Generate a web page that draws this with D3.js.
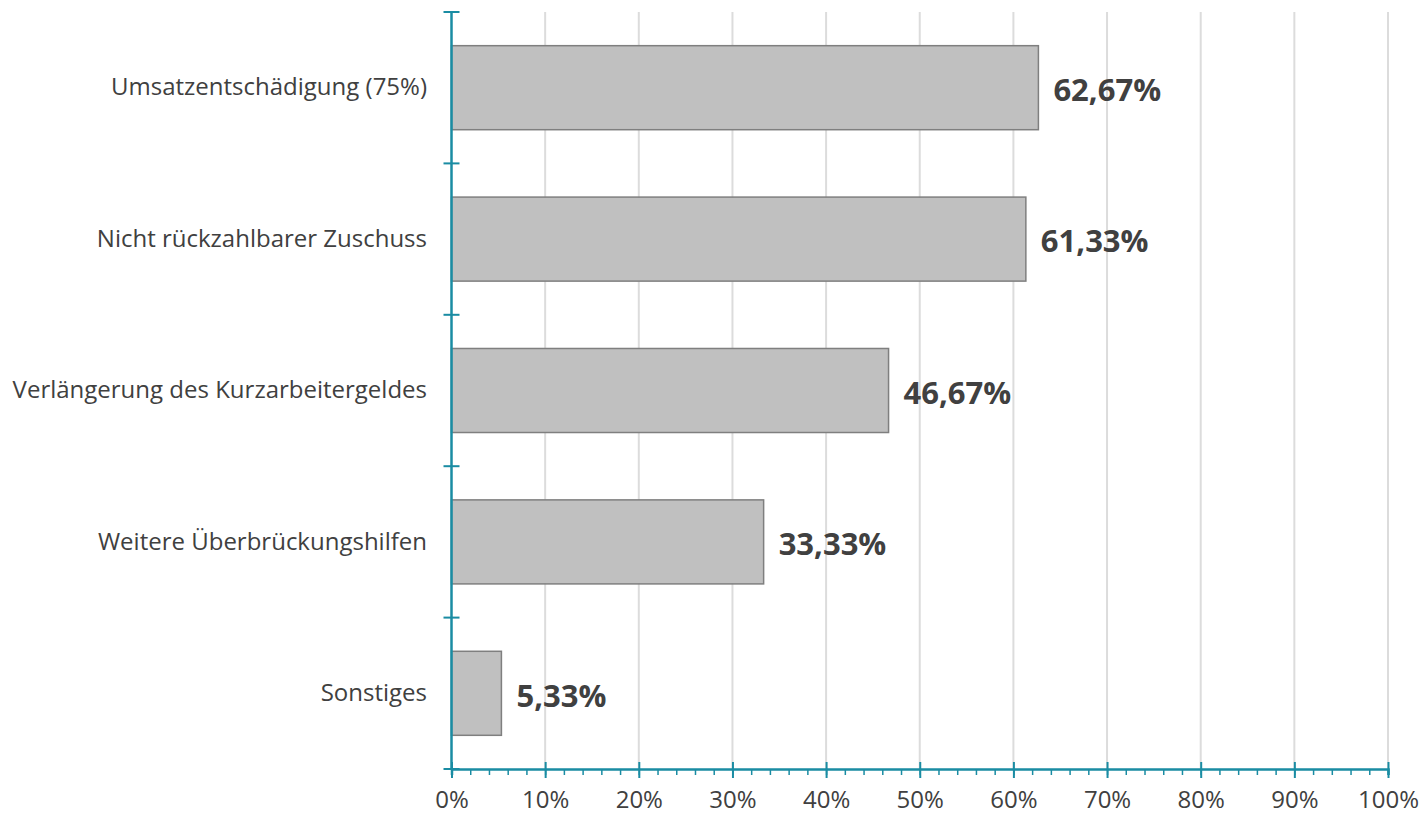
<!DOCTYPE html>
<html>
<head>
<meta charset="utf-8">
<script src="https://cdn.jsdelivr.net/npm/d3@7"></script>
<style>
	body { margin: 0; background: #fff; }
	svg { display: block; font-family: "Open Sans", sans-serif; }
</style>
</head>
<body>
<svg class="chart" width="1423" height="816"></svg>
<script>
var categories = ["Umsatzentschädigung (75%)", "Nicht rückzahlbarer Zuschuss", "Verlängerung des Kurzarbeitergeldes", "Weitere Überbrückungshilfen", "Sonstiges"];
var values = [62.67, 61.33, 46.67, 33.33, 5.33];
var valueLabels = ["62,67%", "61,33%", "46,67%", "33,33%", "5,33%"];
var xTicks = [0, 10, 20, 30, 40, 50, 60, 70, 80, 90, 100];

var plotLeft = 451.5, plotRight = 1388, plotTop = 12, plotBottom = 769;
var axisColor = "#1a8ca3";
var textColor = "#404040";

var svg = d3.select(".chart");

var x = d3.scaleLinear().domain([0, 100]).range([plotLeft, plotRight]);
var y = d3.scaleBand().domain(categories).range([plotTop, plotBottom]).paddingInner(0.445).paddingOuter(0.2225);

// gridlines
svg.append("g")
	.selectAll("line")
	.data(xTicks.slice(1))
	.enter()
	.append("line")
	.attr("x1", d => x(d)).attr("x2", d => x(d))
	.attr("y1", plotTop).attr("y2", plotBottom)
	.style("stroke", "#dcdcdc")
	.style("stroke-width", 2)

// bars
svg.append("g")
	.selectAll("rect")
	.data(values)
	.enter()
	.append("rect")
	.attr("x", x(0))
	.attr("y", (d, i) => y(categories[i]))
	.attr("width", d => x(d) - x(0))
	.attr("height", y.bandwidth())
	.style("fill", "#c0c0c0")
	.style("stroke", "#7f7f7f")
	.style("stroke-width", 1.5)

// value labels
svg.append("g")
	.selectAll("text")
	.data(values)
	.enter()
	.append("text")
	.text((d, i) => valueLabels[i])
	.attr("x", d => x(d) + 15)
	.attr("y", (d, i) => y(categories[i]) + y.bandwidth() / 2)
	.attr("dy", "0.43em")
	.style("font-size", "31px")
	.style("font-weight", "bold")
	.style("fill", textColor)

// category labels
svg.append("g")
	.selectAll("text")
	.data(categories)
	.enter()
	.append("text")
	.text(d => d)
	.attr("x", 427)
	.attr("y", d => y(d) + y.bandwidth() / 2)
	.attr("dy", "0.32em")
	.attr("text-anchor", "end")
	.style("font-size", "24px")
	.style("fill", textColor)

// x axis: minor ticks
var xAxisMinor = d3.axisBottom(x).tickValues(d3.range(0, 101, 2)).tickSize(6).tickFormat("");
var gMinor = svg.append("g").attr("transform", `translate(0,${plotBottom})`).call(xAxisMinor);
gMinor.selectAll("line").style("stroke", axisColor).style("stroke-width", 1.5);
gMinor.select(".domain").style("stroke", axisColor).style("stroke-width", 2.5);

// x axis: major ticks and labels
var xAxis = d3.axisBottom(x).tickValues(xTicks).tickSize(9).tickFormat(d => d + "%").tickPadding(13);
var gx = svg.append("g").attr("transform", `translate(0,${plotBottom})`).call(xAxis);
gx.select(".domain").remove();
gx.selectAll("line").attr("y1", -7).style("stroke", axisColor).style("stroke-width", 2);
gx.selectAll("text").style("font-size", "24px").style("fill", textColor).style("font-family", "Open Sans");

// y axis
var bounds = categories.map(d => y(d) - y.step() * y.paddingInner() / 2);
bounds.push(plotBottom);
var gy = svg.append("g");
gy.append("line")
	.attr("x1", plotLeft).attr("x2", plotLeft)
	.attr("y1", plotTop).attr("y2", plotBottom)
	.style("stroke", axisColor).style("stroke-width", 2.5)
gy.selectAll(".tk")
	.data(bounds)
	.enter()
	.append("line")
	.attr("class", "tk")
	.attr("x1", plotLeft - 8).attr("x2", plotLeft + 8)
	.attr("y1", d => d).attr("y2", d => d)
	.style("stroke", axisColor).style("stroke-width", 2)
</script>
</body>
</html>
